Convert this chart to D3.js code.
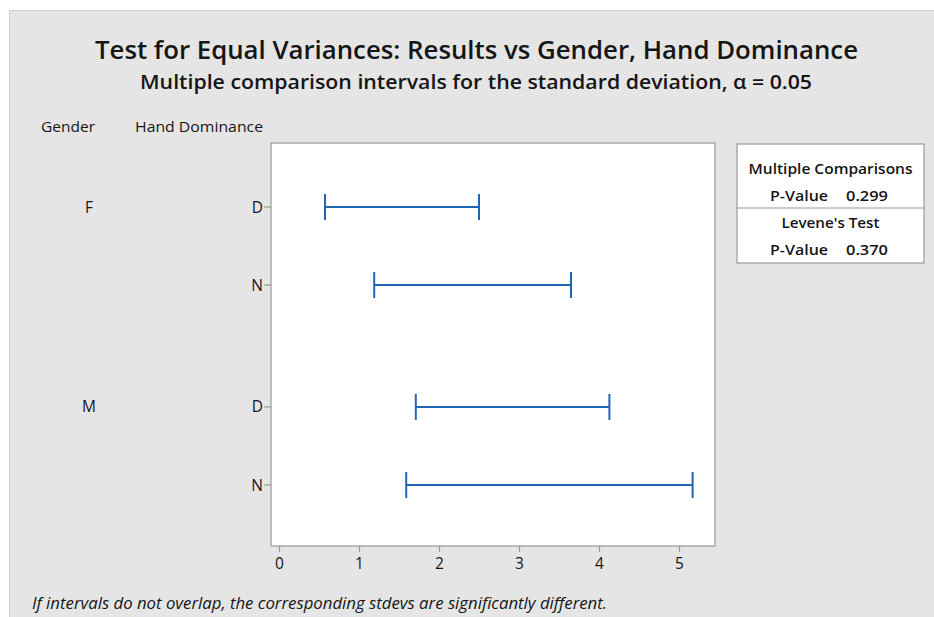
<!DOCTYPE html>
<html>
<head>
<meta charset="utf-8">
<script src="https://cdn.jsdelivr.net/npm/d3@7"></script>
<style>
  html, body { margin: 0; padding: 0; background: #ffffff; }
  svg { display: block; font-family: "Open Sans", "Noto Sans", sans-serif; }
</style>
</head>
<body>
<svg id="chart" width="934" height="617"></svg>
<script>
// Interval data: standard deviation confidence intervals per group
const genders = ["F", "F", "M", "M"];
const hands = ["D", "N", "D", "N"];
const lower = [0.575, 1.19, 1.71, 1.59];
const upper = [2.50, 3.65, 4.13, 5.17];
const xTicks = [0, 1, 2, 3, 4, 5];
const statsRows = [
  { head: "Multiple Comparisons", label: "P-Value", value: "0.299" },
  { head: "Levene's Test", label: "P-Value", value: "0.370" }
];

const svg = d3.select("#chart");
const W = 934, H = 617;
const ink = "#151515";

// Gray panel
svg.append("rect").attr("x", 9.5).attr("y", 10.5).attr("width", W).attr("height", H)
  .attr("fill", "#e5e5e5").attr("stroke", "#cfcfcf");

// Titles
svg.append("text").attr("x", 95).attr("y", 59)
  .attr("font-size", 25).attr("font-weight", 600).attr("fill", ink)
  .attr("textLength", 763).attr("lengthAdjust", "spacingAndGlyphs")
  .text("Test for Equal Variances: Results vs Gender, Hand Dominance");
svg.append("text").attr("x", 140).attr("y", 89)
  .attr("font-size", 20).attr("font-weight", 600).attr("fill", ink)
  .attr("textLength", 672).attr("lengthAdjust", "spacingAndGlyphs")
  .text("Multiple comparison intervals for the standard deviation, \u03B1 = 0.05");

// Column headers
svg.append("text").attr("x", 41).attr("y", 132).attr("font-size", 15).attr("fill", ink)
  .attr("textLength", 54).attr("lengthAdjust", "spacingAndGlyphs")
  .text("Gender");
svg.append("text").attr("x", 135).attr("y", 132).attr("font-size", 15).attr("fill", ink)
  .attr("textLength", 128).attr("lengthAdjust", "spacingAndGlyphs")
  .text("Hand Dominance");

// Plot area
const box = { left: 271, top: 143, right: 715, bottom: 546 };
svg.append("rect").attr("x", box.left).attr("y", box.top)
  .attr("width", box.right - box.left).attr("height", box.bottom - box.top)
  .attr("fill", "#ffffff").attr("stroke", "#aaaaaa").attr("stroke-width", 1.5);

const x = d3.scaleLinear().domain([0, 5]).range([279, 679]);

// Row positions: rows within a gender group sit one unit apart, groups separated by an extra gap
const groupGap = 0.56;
const groupOrder = Array.from(new Set(genders));
const rowIndex = genders.map((g, i) => i + groupOrder.indexOf(g) * groupGap);
const y = d3.scaleLinear().domain([0, 3 + groupGap]).range([207, 485]);

// X axis
const xAxis = d3.axisBottom(x).tickValues(xTicks).tickFormat(d3.format("d"))
  .tickSize(6).tickSizeOuter(0);
const gx = svg.append("g").attr("transform", `translate(0,${box.bottom})`).call(xAxis);
gx.select(".domain").remove();
gx.selectAll(".tick line").attr("stroke", "#999").attr("stroke-width", 1.2);
gx.selectAll(".tick text").attr("font-size", 15.5).attr("fill", ink)
  .attr("font-family", "Open Sans, Noto Sans, sans-serif").attr("dy", "1.0em")
  .attr("y", 7);

// Y ticks and labels
const rows = svg.append("g");
rowIndex.forEach((r, i) => {
  const yy = y(r);
  rows.append("line").attr("x1", box.left - 7).attr("x2", box.left)
    .attr("y1", yy).attr("y2", yy).attr("stroke", "#999").attr("stroke-width", 1.2);
  rows.append("text").attr("x", 263).attr("y", yy + 5.5).attr("text-anchor", "end")
    .attr("font-size", 15.5).attr("fill", ink).text(hands[i]);
});
// Gender label at the first row of each group
groupOrder.forEach(g => {
  const i = genders.indexOf(g);
  rows.append("text").attr("x", 89).attr("y", y(rowIndex[i]) + 5.5).attr("text-anchor", "middle")
    .attr("font-size", 15.5).attr("fill", ink).text(g);
});

// Intervals
const blue = "#2166b3";
const cap = 13;
const iv = svg.append("g").attr("stroke", blue).attr("stroke-width", 2).attr("fill", "none");
rowIndex.forEach((r, i) => {
  const yy = y(r);
  iv.append("line").attr("x1", x(lower[i])).attr("x2", x(upper[i])).attr("y1", yy).attr("y2", yy);
  iv.append("line").attr("x1", x(lower[i])).attr("x2", x(lower[i])).attr("y1", yy - cap).attr("y2", yy + cap);
  iv.append("line").attr("x1", x(upper[i])).attr("x2", x(upper[i])).attr("y1", yy - cap).attr("y2", yy + cap);
});

// Stats table
const tb = { x: 737, y: 144, w: 187, h: 119, mid: 208 };
svg.append("rect").attr("x", tb.x).attr("y", tb.y).attr("width", tb.w).attr("height", tb.h)
  .attr("fill", "#ffffff").attr("stroke", "#999").attr("stroke-width", 1.2);
svg.append("line").attr("x1", tb.x).attr("x2", tb.x + tb.w).attr("y1", tb.mid).attr("y2", tb.mid)
  .attr("stroke", "#999").attr("stroke-width", 1.2);
const cx = tb.x + tb.w / 2;
const headW = [164, 98];
statsRows.forEach((s, k) => {
  const base = k === 0 ? 174 : 228;
  svg.append("text").attr("x", cx - headW[k] / 2).attr("y", base)
    .attr("font-size", 14.5).attr("font-weight", 600).attr("fill", ink)
    .attr("textLength", headW[k]).attr("lengthAdjust", "spacingAndGlyphs").text(s.head);
  svg.append("text").attr("x", 770).attr("y", base + 27)
    .attr("font-size", 14.5).attr("font-weight", 600).attr("fill", ink)
    .attr("textLength", 58).attr("lengthAdjust", "spacingAndGlyphs").text(s.label);
  svg.append("text").attr("x", 846).attr("y", base + 27)
    .attr("font-size", 14.5).attr("font-weight", 600).attr("fill", ink)
    .attr("textLength", 42).attr("lengthAdjust", "spacingAndGlyphs").text(s.value);
});

// Footnote
svg.append("text").attr("x", 32).attr("y", 609).attr("font-size", 16).attr("font-style", "italic")
  .attr("fill", ink).attr("textLength", 575).attr("lengthAdjust", "spacingAndGlyphs")
  .text("If intervals do not overlap, the corresponding stdevs are significantly different.");
</script>
</body>
</html>
